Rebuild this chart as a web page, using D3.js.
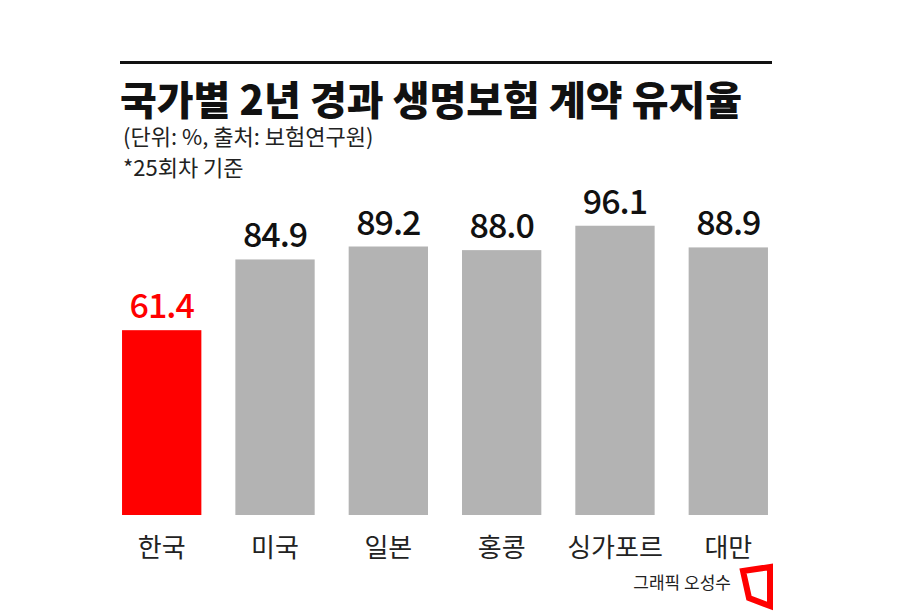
<!DOCTYPE html>
<html><head><meta charset="utf-8">
<script src="https://cdn.jsdelivr.net/npm/d3@7"></script>
<style>body{margin:0;background:#fff}text{font-family:"Noto Sans CJK KR","Noto Sans",sans-serif}</style>
</head><body><div id="chart"></div>
<script>
const countries = ['한국', '미국', '일본', '홍콩', '싱가포르', '대만'];
const values = [61.4, 84.9, 89.2, 88.0, 96.1, 88.9];
const colors = ['#ff0000', '#b3b3b3', '#b3b3b3', '#b3b3b3', '#b3b3b3', '#b3b3b3'];

const width = 900, height = 615;
const svg = d3.select('#chart').append('svg').attr('width', width).attr('height', height);

// 상단 선과 제목
svg.append('rect').attr('x', 120).attr('y', 61).attr('width', 652).attr('height', 3).attr('fill', '#111');
svg.append('text').attr('x', 120).attr('y', 115).attr('font-size', 40).attr('font-weight', 900)
    .attr('fill', '#111').text('국가별 2년 경과 생명보험 계약 유지율');
svg.append('text').attr('x', 123).attr('y', 145).attr('font-size', 22).attr('fill', '#222')
    .text('(단위: %, 출처: 보험연구원)');
svg.append('text').attr('x', 123).attr('y', 176).attr('font-size', 22).attr('fill', '#222')
    .text('*25회차 기준');

let x = d3.scaleBand().domain(countries).range([110.7, 779.3]).paddingInner(0.3).paddingOuter(0.1);
let y = d3.scaleLinear().domain([0, 100]).range([515, 214]);

let g = svg.selectAll('g.bar').data(countries).enter().append('g').attr('class', 'bar');
g.append('rect')
    .attr('x', d => x(d))
    .attr('y', (d, i) => y(values[i]))
    .attr('width', x.bandwidth())
    .attr('height', (d, i) => y(0) - y(values[i]))
    .attr('fill', (d, i) => colors[i]);
g.append('text')
    .attr('x', d => x(d) + x.bandwidth() / 2)
    .attr('y', (d, i) => y(values[i]) - 12)
    .attr('text-anchor', 'middle').attr('font-size', 34).attr('font-weight', 500)
    .attr('letter-spacing', -1)
    .attr('fill', (d, i) => i === 0 ? '#ff0000' : '#111')
    .text((d, i) => values[i].toFixed(1));
g.append('text')
    .attr('x', d => x(d) + x.bandwidth() / 2)
    .attr('y', 557)
    .attr('text-anchor', 'middle').attr('font-size', 26).attr('fill', '#222')
    .text(d => d);

// 크레딧
svg.append('text').attr('x', 731).attr('y', 589).attr('text-anchor', 'end')
    .attr('font-size', 17).attr('fill', '#222').text('그래픽 오성수');
svg.append('path').attr('d', 'M743,571 L770,567 L770,606 L749,598 Z')
    .attr('fill', 'none').attr('stroke', '#ff0000').attr('stroke-width', 6).attr('stroke-linejoin', 'miter');
</script></body></html>
